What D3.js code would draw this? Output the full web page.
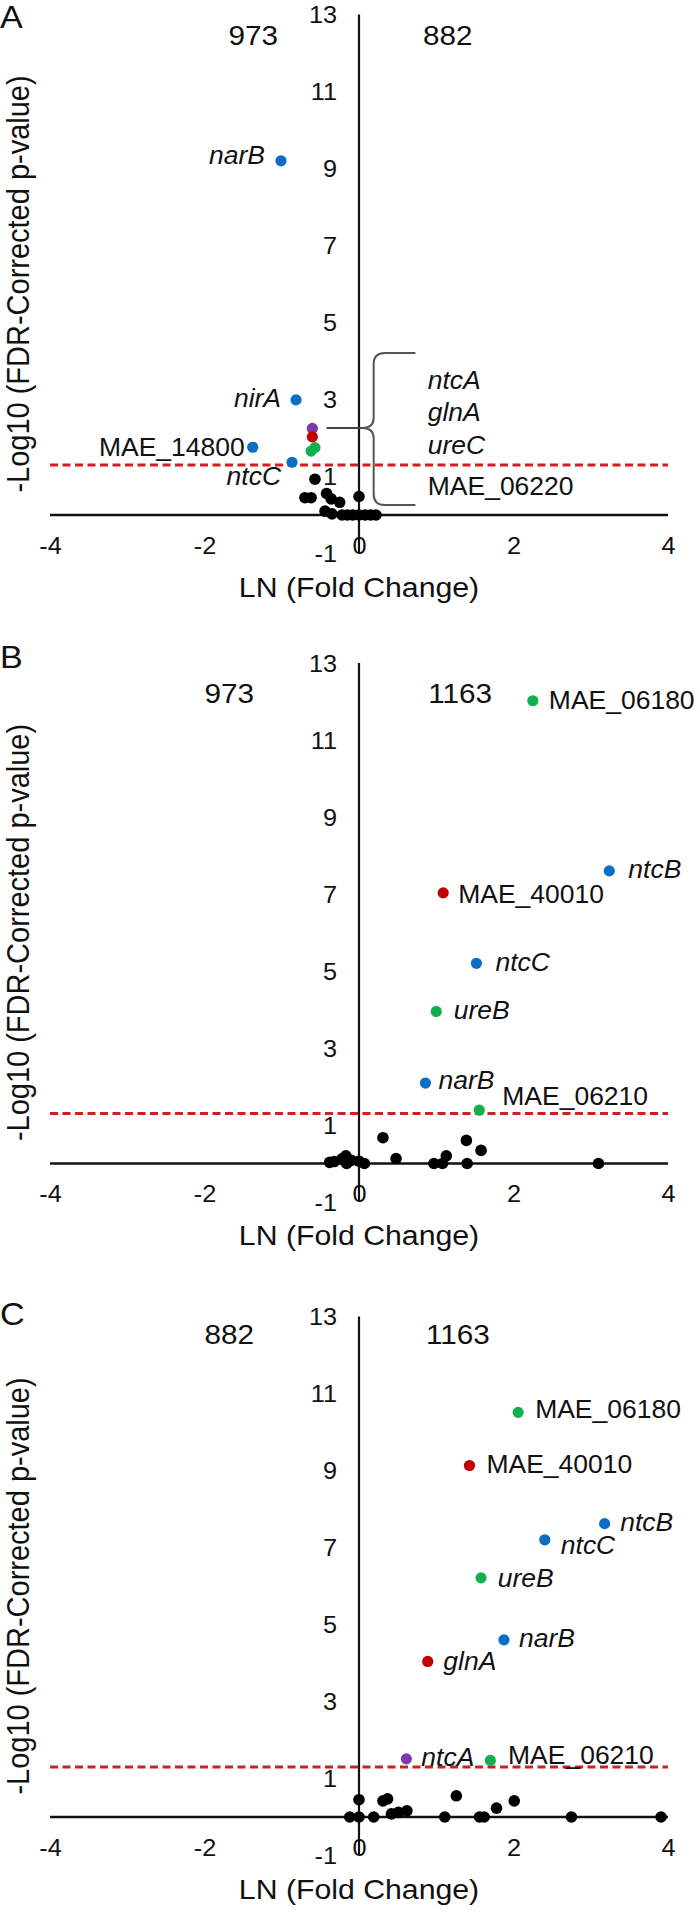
<!DOCTYPE html>
<html><head><meta charset="utf-8">
<script src="https://cdn.jsdelivr.net/npm/d3@7"></script>
<style>
html,body{margin:0;padding:0;background:#fff;}
svg text{font-family:"Liberation Sans",Arial,Helvetica,sans-serif;fill:#111;}
</style></head><body>
<svg id="chart" width="700" height="1912"></svg>
<script>
// ---------- data ----------
const xTickValues = [-4, -2, 0, 2, 4];
const yTickValues = [-1, 1, 3, 5, 7, 9, 11, 13];
const panelLetters = ["A", "B", "C"];
const groupCounts = [["973", "882"], ["973", "1163"], ["882", "1163"]];
const xTitle = "LN (Fold Change)";
const yTitle = "-Log10 (FDR-Corrected p-value)";
const sigThreshold = 1.3;

// Panel A (973 vs 882)
const genesA = ["narB", "nirA", "MAE_14800", "ntcC", "ntcA", "glnA", "ureC", "MAE_06220"];
const lnFcA  = [-1.01, -0.815, -1.376, -0.867, -0.604, -0.604, -0.62, -0.57];
const logPA  = [9.2, 2.99, 1.76, 1.37, 2.25, 2.03, 1.66, 1.75];
const groupA = ["blue", "blue", "blue", "blue", "purple", "red", "green", "green"];
const bgXA = [-0.70, -0.62, -0.57, -0.42, -0.36, -0.25, -0.44, -0.35, -0.22, -0.15, -0.08, 0.0, 0.0, 0.08, 0.15, 0.22];
const bgYA = [0.45, 0.45, 0.93, 0.56, 0.42, 0.33, 0.10, 0.03, 0.0, 0.0, 0.0, 0.48, 0.0, 0.0, 0.0, 0.0];
const bracketGenesA = ["ntcA", "glnA", "ureC", "MAE_06220"];

// Panel B (973 vs 1163)
const genesB = ["MAE_06180", "ntcB", "MAE_40010", "ntcC", "ureB", "narB", "MAE_06210"];
const lnFcB  = [2.25, 3.24, 1.09, 1.52, 1.00, 0.86, 1.557];
const logPB  = [12.02, 7.60, 7.03, 5.20, 3.95, 2.09, 1.385];
const groupB = ["green", "blue", "red", "blue", "green", "blue", "green"];
const bgXB = [-0.38, -0.32, -0.22, -0.17, -0.16, -0.10, 0.0, 0.07, 0.31, 0.48, 0.97, 1.08, 1.13, 1.39, 1.40, 1.58, 3.10];
const bgYB = [0.03, 0.05, 0.12, 0.20, 0.0, 0.08, 0.06, 0.0, 0.67, 0.13, 0.0, 0.0, 0.2, 0.60, 0.0, 0.34, 0.0];

// Panel C (882 vs 1163)
const genesC = ["MAE_06180", "MAE_40010", "ntcB", "ntcC", "ureB", "narB", "glnA", "ntcA", "MAE_06210"];
const lnFcC  = [2.06, 1.43, 3.18, 2.405, 1.58, 1.877, 0.89, 0.613, 1.70];
const logPC  = [10.51, 9.13, 7.62, 7.20, 6.21, 4.60, 4.04, 1.51, 1.47];
const groupC = ["green", "red", "blue", "blue", "green", "blue", "red", "purple", "green"];
const bgXC = [-0.12, 0.0, 0.0, 0.19, 0.31, 0.37, 0.42, 0.51, 0.62, 1.11, 1.26, 1.56, 1.62, 1.78, 2.01, 2.75, 3.91];
const bgYC = [0.0, 0.45, 0.0, 0.0, 0.42, 0.47, 0.08, 0.12, 0.16, 0.0, 0.55, 0.0, 0.0, 0.23, 0.42, 0.0, 0.0];

// ---------- layout / style (kept apart from data) ----------
const SX = 1.1;            // horizontal stretch of the original figure's text
const LSX = 1.06;          // stretch for point labels
const colors = {blue: "#0a6fc4", green: "#12b04c", red: "#c00000", purple: "#7a3aa8", black: "#000"};
const panelTops = [14.5, 663, 1316.5];
const plotH = 539;
const letterDy = [13.5, 5, 8.5];
const countPos = [[[-1.37, 20.5], [1.15, 20.5]], [[-1.68, 30], [1.31, 30]], [[-1.68, 17.5], [1.28, 17.5]]];
// label placement: [dx, dy(center), anchor]
const labelPlaceA = [[-16, -6, "end"], [-15, -2, "end"], [-8, 0, "end"], [-11, 14, "end"], null, null, null, null];
const labelPlaceB = [[16, 0], [19, -2], [15, 1], [19, -1], [17.5, -1], [13, -3], [23, -14]];
const labelPlaceC = [[17, -3], [17, -1], [15.5, -1], [16, 5], [16.6, 0], [15, -2], [15.6, 0], [15, -2], [17.7, -5]];

const panels = [
  {genes: genesA, xs: lnFcA, ys: logPA, grp: groupA, bx: bgXA, by: bgYA, place: labelPlaceA},
  {genes: genesB, xs: lnFcB, ys: logPB, grp: groupB, bx: bgXB, by: bgYB, place: labelPlaceB},
  {genes: genesC, xs: lnFcC, ys: logPC, grp: groupC, bx: bgXC, by: bgYC, place: labelPlaceC}
];

const svg = d3.select("#chart");
const x = d3.scaleLinear().domain([-4, 4]).range([50, 668]);

function isItalic(g) { return !/^MAE_/.test(g); }

function addText(g, px, py, str, o) {
  o = o || {};
  const sx = o.sx || SX;
  return g.append("text")
    .attr("transform", `translate(${px},${py}) scale(${sx},1)`)
    .attr("text-anchor", o.anchor || "start")
    .attr("dominant-baseline", o.baseline || "central")
    .style("font-size", (o.size || 25) + "px")
    .style("font-style", o.italic ? "italic" : "normal")
    .text(str);
}

function stretchAxisText(sel) {
  sel.each(function () {
    const t = d3.select(this);
    const tx = +t.attr("x") || 0, ty = +t.attr("y") || 0;
    t.attr("x", 0).attr("y", 0).attr("transform", `translate(${tx},${ty}) scale(${SX},1)`);
  });
}

panels.forEach((p, i) => {
  const top = panelTops[i];
  const y = d3.scaleLinear().domain([-1, 13]).range([top + plotH, top]);
  const g = svg.append("g");

  // y-axis labels
  const gy = g.append("g").attr("transform", `translate(${x(0)},0)`)
    .call(d3.axisLeft(y).tickValues(yTickValues).tickSize(0).tickPadding(22).tickFormat(d => String(d)));
  gy.attr("font-size", null).attr("font-family", null);
  gy.select(".domain").remove();
  gy.selectAll("text").style("font-size", "23px").attr("dy", "0.36em");
  stretchAxisText(gy.selectAll("text"));

  // x-axis labels (Excel "low" position)
  const gx = g.append("g").attr("transform", `translate(0,${y(-1)})`)
    .call(d3.axisBottom(x).tickValues(xTickValues).tickSize(0).tickFormat(d => String(d)));
  gx.attr("font-size", null).attr("font-family", null);
  gx.select(".domain").remove();
  gx.selectAll("text").attr("y", -8).attr("dy", "0.36em").style("font-size", "23px");
  stretchAxisText(gx.selectAll("text"));

  // axis lines
  g.append("line").attr("x1", x(0)).attr("x2", x(0)).attr("y1", y(13)).attr("y2", y(-1))
    .attr("stroke", "#111").attr("stroke-width", 2.2);
  g.append("line").attr("x1", x(-4)).attr("x2", x(4)).attr("y1", y(0)).attr("y2", y(0))
    .attr("stroke", "#111").attr("stroke-width", 2.6);

  // significance threshold
  g.append("line").attr("x1", x(-4)).attr("x2", x(4)).attr("y1", y(sigThreshold)).attr("y2", y(sigThreshold))
    .attr("stroke", "#cf2020").attr("stroke-width", 3).attr("stroke-dasharray", "8,4.5");

  // titles
  addText(g, x(0), y(0) + 72, xTitle, {anchor: "middle", size: 27.5});
  g.append("text")
    .attr("transform", `translate(17,${top + plotH / 2}) rotate(-90) scale(1,${SX})`)
    .attr("text-anchor", "middle").attr("dominant-baseline", "central")
    .style("font-size", "29px").text(yTitle);
  addText(g, 0, top + letterDy[i], panelLetters[i], {baseline: "alphabetic", size: 31});

  // group counts
  groupCounts[i].forEach((c, k) => {
    addText(g, x(countPos[i][k][0]), top + countPos[i][k][1], c, {anchor: "middle", size: 27});
  });

  // bracket (panel A)
  if (i === 0) {
    const tipX = x(0) + 3, tipY = y(2.26), vx = x(0.19), topY = y(4.21), botY = y(0.26), endX = x(0.73);
    g.append("line").attr("x1", x(-0.42)).attr("x2", tipX).attr("y1", tipY).attr("y2", tipY)
      .attr("stroke", "#444").attr("stroke-width", 2);
    const path = d3.path();
    path.moveTo(endX, topY); path.lineTo(vx + 11, topY);
    path.quadraticCurveTo(vx, topY, vx, topY + 11);
    path.lineTo(vx, tipY - 10);
    path.quadraticCurveTo(vx, tipY, tipX, tipY);
    path.quadraticCurveTo(vx, tipY, vx, tipY + 10);
    path.lineTo(vx, botY - 11);
    path.quadraticCurveTo(vx, botY, vx + 11, botY);
    path.lineTo(endX, botY);
    g.append("path").attr("d", path.toString()).attr("fill", "none").attr("stroke", "#555").attr("stroke-width", 2);
    const bly = [3.27, 2.44, 1.58, 0.52];
    bracketGenesA.forEach((gn, k) => {
      addText(g, x(0.89), y(bly[k]), gn, {baseline: "alphabetic", italic: isItalic(gn), size: 25, sx: LSX});
    });
  }

  // background (non-significant) points
  g.append("g").selectAll("circle").data(d3.range(p.bx.length)).join("circle")
    .attr("cx", k => x(p.bx[k])).attr("cy", k => y(p.by[k])).attr("r", 5.8).attr("fill", colors.black);

  // highlighted genes
  g.append("g").selectAll("circle").data(d3.range(p.genes.length)).join("circle")
    .attr("cx", k => x(p.xs[k])).attr("cy", k => y(p.ys[k])).attr("r", 5.6)
    .attr("fill", k => colors[p.grp[k]]);

  p.genes.forEach((gn, k) => {
    const pl = p.place[k];
    if (!pl) return;
    addText(g, x(p.xs[k]) + pl[0], y(p.ys[k]) + pl[1], gn,
      {anchor: pl[2] || "start", italic: isItalic(gn), size: 25, sx: LSX});
  });
});
</script>
</body></html>
